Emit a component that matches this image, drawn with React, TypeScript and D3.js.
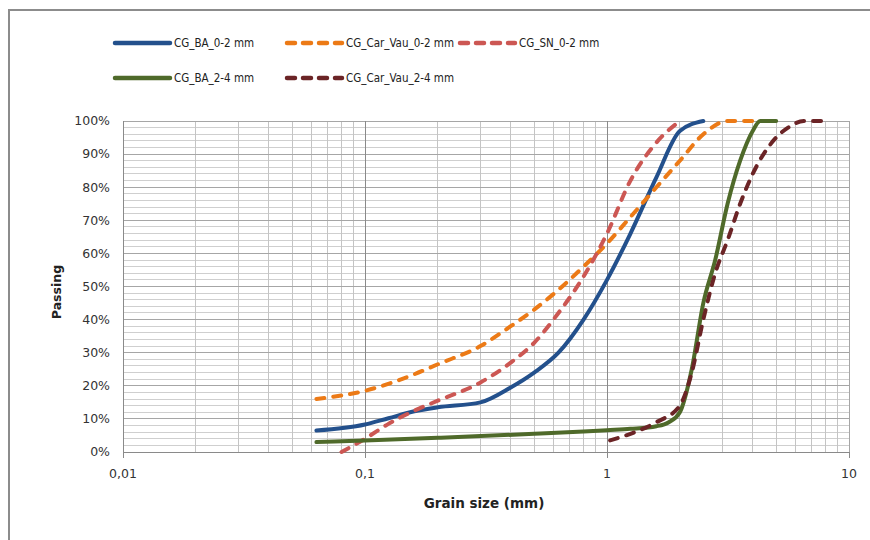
import * as d3 from "d3";

type Pt = [number, number];

// grain size (mm), passing (%)
const baSand: Pt[] = [[0.063, 6.5], [0.1, 8.3], [0.125, 10.2], [0.16, 12.3], [0.2, 13.5], [0.3, 15], [0.4, 19.5], [0.5, 24], [0.63, 30], [0.8, 40], [1, 52], [1.25, 66], [1.6, 83], [2, 97], [2.5, 100]];
const carVauSand: Pt[] = [[0.063, 16], [0.1, 18.5], [0.16, 23.5], [0.2, 26.5], [0.3, 32], [0.4, 38], [0.5, 43], [0.63, 49], [0.8, 56], [1, 63], [1.25, 71], [1.6, 80], [2, 88], [2.5, 96], [3.15, 100], [4, 100]];
const snSand: Pt[] = [[0.08, 0], [0.1, 4], [0.125, 8.5], [0.16, 12.5], [0.2, 15.5], [0.3, 21], [0.4, 27], [0.5, 33], [0.63, 42], [0.8, 53], [1, 66], [1.25, 82], [1.6, 93.5], [2, 100]];
const baGravel: Pt[] = [[0.063, 3], [0.1, 3.5], [0.2, 4.3], [0.3, 4.8], [0.5, 5.5], [0.8, 6.2], [1, 6.6], [1.25, 7], [1.6, 7.8], [1.8, 9], [2, 12], [2.24, 25], [2.5, 45], [2.8, 58], [3.15, 75], [3.55, 88], [4, 97], [4.3, 100], [5, 100]];
const carVauGravel: Pt[] = [[1.03, 3.5], [1.25, 5.5], [1.6, 9], [2, 14], [2.24, 24], [2.5, 40], [2.8, 54], [3.15, 64], [3.55, 75], [4, 84], [5, 95], [5.6, 98], [6.5, 100], [8, 100]];

const xTicks = [0.01, 0.1, 1, 10];
const xTickLabels = ["0,01", "0,1", "1", "10"];
const yTicks = [0, 10, 20, 30, 40, 50, 60, 70, 80, 90, 100];

const series = [
  { name: "CG_BA_0-2 mm", data: baSand, color: "#23508c", dashed: false },
  { name: "CG_Car_Vau_0-2 mm", data: carVauSand, color: "#ec7a16", dashed: true },
  { name: "CG_SN_0-2 mm", data: snSand, color: "#cc5753", dashed: true },
  { name: "CG_BA_2-4 mm", data: baGravel, color: "#4f6a2a", dashed: false },
  { name: "CG_Car_Vau_2-4 mm", data: carVauGravel, color: "#6b2426", dashed: true },
];

const W = 870;
const H = 540;
const left = 123, right = 849, top = 121, bottom = 452;

export default function App() {
  const x = d3.scaleLog().domain([0.01, 10]).range([left, right]);
  const y = d3.scaleLinear().domain([0, 100]).range([bottom, top]);

  const minorX: number[] = [];
  for (let e = -2; e < 1; e++) {
    for (let k = 2; k <= 9; k++) minorX.push(k * Math.pow(10, e));
  }
  const minorY = d3.range(0, 101, 2).filter((v) => v % 10 !== 0);

  const line = d3
    .line<Pt>()
    .x((d) => x(d[0]))
    .y((d) => y(d[1]))
    .curve(d3.curveMonotoneX);

  const legendPos = [
    [115, 43], [287, 43], [460, 43],
    [115, 78], [287, 78],
  ];

  const font = "'DejaVu Sans', sans-serif";

  return (
    <svg width={W} height={H} style={{ position: "absolute", left: 0, top: 0 }} fontFamily={font}>
      <rect x={0} y={0} width={W} height={H} fill="#fff" />
      <rect x={9} y={10} width={W + 20} height={H + 20} fill="none" stroke="#8c8c8c" strokeWidth={2} />

      <g shapeRendering="crispEdges">
        {minorY.map((v) => (
          <line key={"my" + v} x1={left} x2={right} y1={y(v)} y2={y(v)} stroke="#cfcfcf" />
        ))}
        {minorX.map((v, i) => (
          <line key={"mx" + i} x1={x(v)} x2={x(v)} y1={top} y2={bottom} stroke="#c4c4c4" />
        ))}
        {yTicks.map((v) => (
          <line key={"y" + v} x1={left} x2={right} y1={y(v)} y2={y(v)} stroke="#a6a6a6" />
        ))}
        {xTicks.map((v) => (
          <line key={"x" + v} x1={x(v)} x2={x(v)} y1={top} y2={bottom + 6} stroke="#8a8a8a" />
        ))}
        <line x1={right} x2={right} y1={top} y2={bottom} stroke="#a6a6a6" />
        <line x1={left} x2={right} y1={bottom} y2={bottom} stroke="#8a8a8a" />
        <line x1={left} x2={left} y1={top} y2={bottom} stroke="#8a8a8a" />
      </g>

      {yTicks.map((v) => (
        <text key={"yl" + v} x={110} y={y(v)} dy="0.35em" textAnchor="end" fontSize={12.5} fill="#333">
          {v}%
        </text>
      ))}
      {xTicks.map((v, i) => (
        <text key={"xl" + v} x={x(v)} y={478} textAnchor="middle" fontSize={12.5} fill="#333">
          {xTickLabels[i]}
        </text>
      ))}

      <text x={484} y={508} textAnchor="middle" fontSize={13.5} fontWeight="bold" fill="#222">
        Grain size (mm)
      </text>
      <text transform="translate(61,292) rotate(-90)" textAnchor="middle" fontSize={12.5} fontWeight="bold" fill="#222">
        Passing
      </text>

      {series.map((s) => (
        <path
          key={s.name}
          d={line(s.data) || ""}
          fill="none"
          stroke={s.color}
          strokeWidth={4}
          strokeLinecap="round"
          strokeLinejoin="round"
          strokeDasharray={s.dashed ? "8 9" : undefined}
        />
      ))}

      {series.map((s, i) => {
        const [lx, ly] = legendPos[i];
        return (
          <g key={"lg" + s.name}>
            <line
              x1={lx}
              x2={lx + 55}
              y1={ly}
              y2={ly}
              stroke={s.color}
              strokeWidth={4.5}
              strokeLinecap="round"
              strokeDasharray={s.dashed ? "8 8" : undefined}
            />
            <text
              x={lx + 59}
              y={ly}
              dy="0.35em"
              fontSize={11.5}
              fontFamily="'DejaVu Sans Condensed', 'DejaVu Sans', sans-serif"
              style={{ fontStretch: "condensed" }}
              fill="#222"
            >
              {s.name}
            </text>
          </g>
        );
      })}
    </svg>
  );
}
